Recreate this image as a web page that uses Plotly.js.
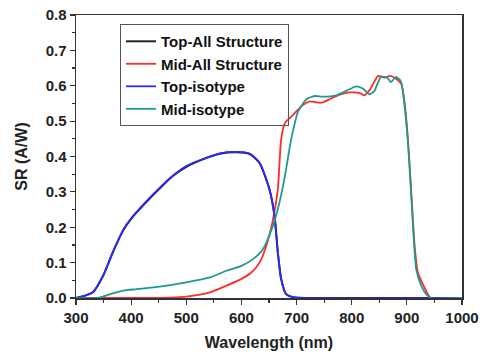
<!DOCTYPE html>
<html>
<head>
<meta charset="utf-8">
<script src="https://cdn.plot.ly/plotly-3.0.1.min.js"></script>
<style>html,body{margin:0;padding:0;background:#fff;}#chart{width:480px;height:354px;}</style>
</head>
<body>
<div id="chart"></div>
<script>
const topAllX = [300, 315, 331, 349, 367, 386, 401, 428, 452, 475, 500, 530, 561, 591, 615, 633, 651, 660, 666, 672, 681, 693, 705, 1000];
const topAllY = [0, 0.006, 0.017, 0.062, 0.13, 0.192, 0.226, 0.272, 0.31, 0.344, 0.371, 0.392, 0.408, 0.412, 0.407, 0.381, 0.306, 0.232, 0.129, 0.054, 0.011, 0.003, 0.001, 0];

const topIsoX = [300, 315, 331, 349, 367, 386, 401, 428, 452, 475, 500, 530, 561, 591, 615, 633, 651, 660, 666, 672, 681, 693, 705, 1000];
const topIsoY = [0, 0.006, 0.016, 0.063, 0.13, 0.194, 0.227, 0.274, 0.312, 0.345, 0.373, 0.393, 0.409, 0.413, 0.408, 0.382, 0.307, 0.232, 0.129, 0.054, 0.011, 0.002, 0, 0];

const midAllX = [300, 440, 470, 500, 543, 573, 600, 618, 633, 645, 657, 666, 672, 679, 688, 700, 712, 724, 736, 748, 760, 778, 796, 815, 823, 833, 848, 860, 869, 881, 890, 896, 902, 908, 914, 920, 929, 938, 944, 1000];
const midAllY = [0, 0, 0.001, 0.004, 0.016, 0.035, 0.054, 0.072, 0.1, 0.147, 0.22, 0.307, 0.448, 0.495, 0.509, 0.528, 0.546, 0.556, 0.553, 0.553, 0.562, 0.575, 0.581, 0.579, 0.573, 0.589, 0.628, 0.623, 0.628, 0.619, 0.605, 0.551, 0.448, 0.298, 0.149, 0.072, 0.039, 0.011, 0, 0];

const midIsoX = [300, 340, 362, 386, 410, 452, 500, 543, 573, 600, 621, 639, 657, 669, 679, 688, 694, 703, 718, 733, 748, 772, 796, 808, 820, 832, 841, 853, 865, 871, 880, 889, 896, 902, 908, 917, 926, 935, 944, 1000];
const midIsoY = [0, 0, 0.011, 0.021, 0.025, 0.032, 0.044, 0.058, 0.077, 0.091, 0.11, 0.138, 0.204, 0.27, 0.346, 0.43, 0.476, 0.528, 0.562, 0.571, 0.569, 0.573, 0.59, 0.598, 0.592, 0.576, 0.585, 0.625, 0.622, 0.61, 0.625, 0.613, 0.542, 0.44, 0.29, 0.081, 0.035, 0.011, 0, 0];

const traces = [
  {x: topAllX, y: topAllY, name: 'Top-All Structure', mode: 'lines', line: {color: '#222222', width: 2, shape: 'spline', smoothing: 0.6}},
  {x: midAllX, y: midAllY, name: 'Mid-All Structure', mode: 'lines', line: {color: '#ff2a2a', width: 1.8, shape: 'spline', smoothing: 0.6}},
  {x: topIsoX, y: topIsoY, name: 'Top-isotype', mode: 'lines', line: {color: '#2a2aff', width: 1.8, shape: 'spline', smoothing: 0.6}},
  {x: midIsoX, y: midIsoY, name: 'Mid-isotype', mode: 'lines', line: {color: '#1f9a8f', width: 1.8, shape: 'spline', smoothing: 0.6}}
];

const fam = 'Liberation Sans, Arial, sans-serif';
const tickFont = {family: fam, size: 15, color: '#222', weight: 700};
const layout = {
  width: 480, height: 354,
  margin: {l: 76, r: 18, t: 15, b: 56},
  paper_bgcolor: '#fff', plot_bgcolor: '#fff',
  showlegend: true,
  legend: {x: 0.114, y: 0.968, xanchor: 'left', yanchor: 'top', bordercolor: '#555', borderwidth: 1, bgcolor: 'rgba(255,255,255,0)',
    font: {family: fam, size: 15, color: '#111', weight: 700}, tracegroupgap: 0, itemwidth: 30},
  xaxis: {
    range: [300, 1000], dtick: 100, tick0: 300, ticks: 'outside', ticklen: 5, tickwidth: 1.2, tickcolor: '#333',
    showline: true, linecolor: '#333', linewidth: 1.5, mirror: true, showgrid: false, zeroline: false,
    minor: {dtick: 50, ticks: 'outside', ticklen: 3, tickcolor: '#333', showgrid: false},
    tickfont: tickFont,
    title: {text: 'Wavelength (nm)', font: {family: fam, size: 16, color: '#222', weight: 700}, standoff: 12}
  },
  yaxis: {
    range: [0, 0.8], dtick: 0.1, tickformat: '.1f', ticks: 'outside', ticklen: 5, tickwidth: 1.2, tickcolor: '#333',
    showline: true, linecolor: '#333', linewidth: 1.5, mirror: true, showgrid: false, zeroline: false,
    minor: {dtick: 0.05, ticks: 'outside', ticklen: 3, tickcolor: '#333', showgrid: false},
    tickfont: tickFont,
    title: {text: 'SR (A/W)', font: {family: fam, size: 16, color: '#222', weight: 700}, standoff: 14}
  }
};
Plotly.newPlot('chart', traces, layout, {staticPlot: true, displayModeBar: false});
</script>
</body>
</html>
